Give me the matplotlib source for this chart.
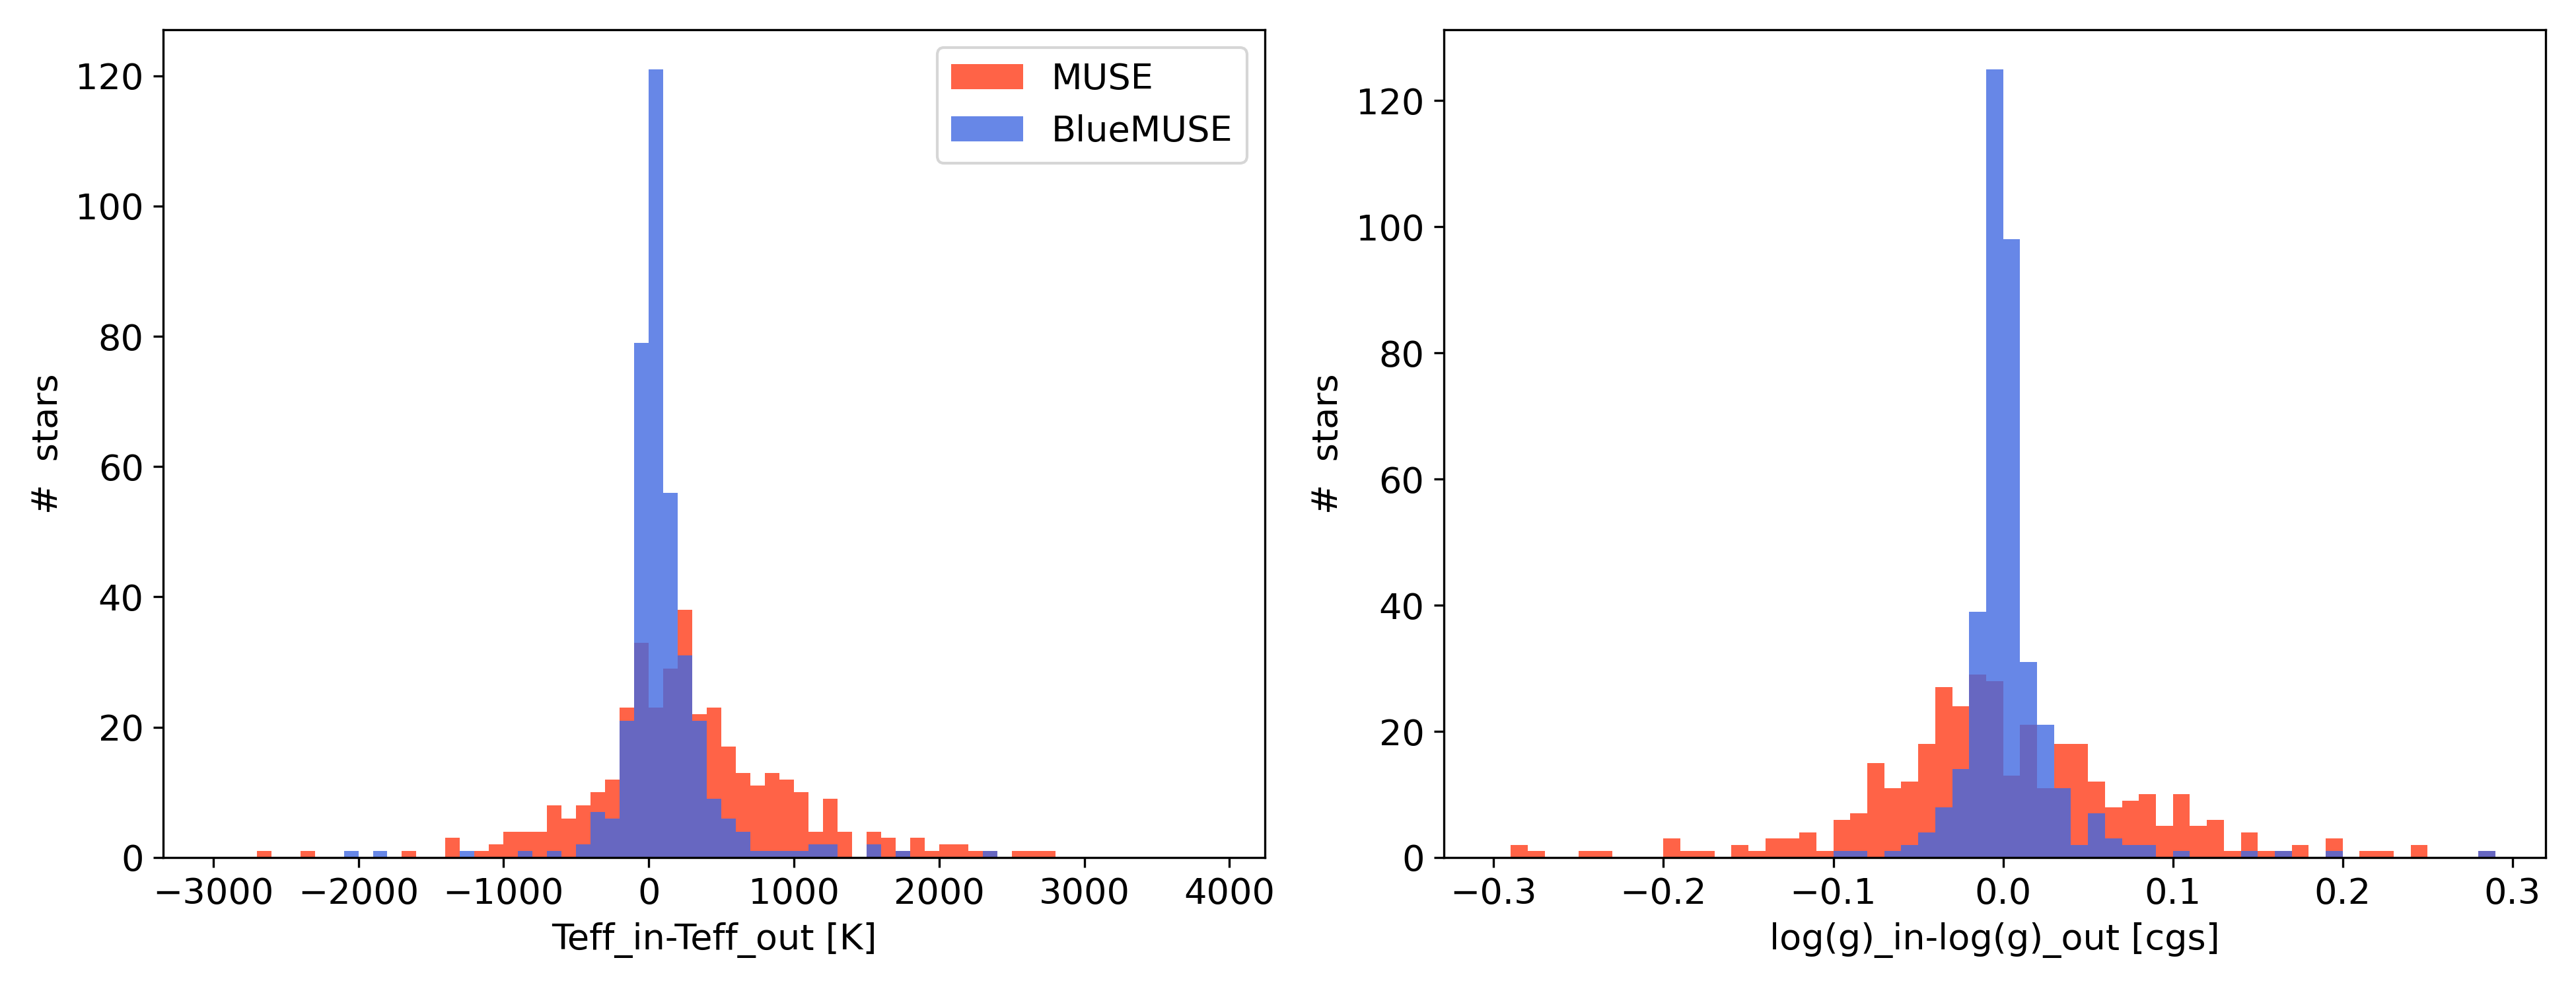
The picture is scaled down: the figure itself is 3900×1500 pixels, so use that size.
import numpy as np
import matplotlib.pyplot as plt

# Teff difference histograms, bins of 100 K from -3000 to 3900
teff_edges = np.arange(-3000, 4000, 100)
teff_muse = [0, 0, 0, 1, 0, 0, 1, 0, 0, 0,
             0, 0, 0, 1, 0, 0, 3, 0, 1, 2,
             4, 4, 4, 8, 6, 8, 10, 12, 23, 33,
             23, 29, 38, 22, 23, 17, 13, 11, 13, 12,
             10, 4, 9, 4, 0, 4, 3, 1, 3, 1,
             2, 2, 1, 1, 0, 1, 1, 1, 0, 0,
             0, 0, 0, 0, 0, 0, 0, 0, 0]
teff_bluemuse = [0, 0, 0, 0, 0, 0, 0, 0, 0, 1,
                 0, 1, 0, 0, 0, 0, 0, 1, 0, 0,
                 0, 1, 0, 1, 0, 2, 7, 6, 21, 79,
                 121, 56, 31, 21, 9, 6, 4, 1, 1, 1,
                 1, 2, 2, 0, 0, 2, 0, 1, 0, 0,
                 0, 0, 0, 1, 0, 0, 0, 0, 0, 0,
                 0, 0, 0, 0, 0, 0, 0, 0, 0]

# log(g) difference histograms, bins of 0.01 from -0.30 to 0.29
logg_edges = np.round(np.arange(-30, 30) * 0.01, 2)
logg_muse = [0, 2, 1, 0, 0, 1, 1, 0, 0, 0,
             3, 1, 1, 0, 2, 1, 3, 3, 4, 1,
             6, 7, 15, 11, 12, 18, 27, 24, 29, 28,
             13, 21, 11, 18, 18, 12, 8, 9, 10, 5,
             10, 5, 6, 1, 4, 1, 1, 2, 0, 3,
             0, 1, 1, 0, 2, 0, 0, 0, 1]
logg_bluemuse = [0, 0, 0, 0, 0, 0, 0, 0, 0, 0,
                 0, 0, 0, 0, 0, 0, 0, 0, 0, 0,
                 1, 1, 0, 1, 2, 4, 8, 14, 39, 125,
                 98, 31, 21, 11, 2, 7, 3, 2, 2, 0,
                 1, 0, 0, 0, 1, 0, 1, 0, 0, 1,
                 0, 0, 0, 0, 0, 0, 0, 0, 1]

plt.rcParams['font.size'] = 13

fig, (ax1, ax2) = plt.subplots(1, 2, figsize=(13, 5), dpi=300)
fig.subplots_adjust(left=0.0633, right=0.9882, bottom=0.1347, top=0.97, wspace=0.162)

centers = (teff_edges[:-1] + teff_edges[1:]) / 2
ax1.hist(centers, bins=teff_edges, weights=teff_muse, color='tomato', label='MUSE')
ax1.hist(centers, bins=teff_edges, weights=teff_bluemuse, color='royalblue', alpha=0.8, label='BlueMUSE')
ax1.set_xlabel('Teff_in-Teff_out [K]')
ax1.set_ylabel('#  stars')
ax1.legend(loc='upper right')

centers = (logg_edges[:-1] + logg_edges[1:]) / 2
ax2.hist(centers, bins=logg_edges, weights=logg_muse, color='tomato', label='MUSE')
ax2.hist(centers, bins=logg_edges, weights=logg_bluemuse, color='royalblue', alpha=0.8, label='BlueMUSE')
ax2.set_xlabel('log(g)_in-log(g)_out [cgs]')
ax2.set_ylabel('#  stars')

plt.savefig('out.png')
